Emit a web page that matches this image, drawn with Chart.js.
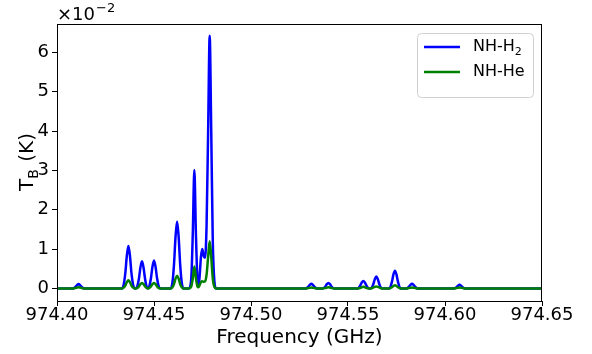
<!DOCTYPE html>
<html>
<head>
<meta charset="utf-8">
<script src="https://cdn.jsdelivr.net/npm/chart.js@4"></script>
<style>
  html, body { margin: 0; padding: 0; background: #fff; }
  #wrap { width: 592px; height: 354px; }
</style>
</head>
<body>
<div id="wrap"><canvas id="spec" width="592" height="354"></canvas></div>
<script>
// frequency grid (GHz) and brightness temperatures (units of 1e-2 K)
const freqs = [
  974.4000,
  974.4079, 974.4087, 974.4095, 974.4103, 974.4111, 974.4119, 974.4127, 974.4135, 974.4143,
  974.4336, 974.4344, 974.4352, 974.4360, 974.4368, 974.4376, 974.4384, 974.4392, 974.4400,
  974.4406, 974.4414, 974.4422, 974.4430, 974.4438, 974.4446, 974.4454, 974.4462,
  974.4469, 974.4476, 974.4484, 974.4492, 974.4500, 974.4508, 974.4516, 974.4524, 974.4532,
  974.4587, 974.4595, 974.4603, 974.4611, 974.4619, 974.4627, 974.4635, 974.4643, 974.4651,
  974.4680, 974.4692, 974.4700, 974.4708, 974.4716, 974.4724, 974.4729,
  974.4735, 974.4742, 974.4749, 974.4756, 974.4763,
  974.4771, 974.4779, 974.4787, 974.4795, 974.4803, 974.4811, 974.4820,
  974.5283, 974.5295, 974.5303, 974.5311, 974.5319, 974.5327, 974.5339,
  974.5371, 974.5383, 974.5391, 974.5399, 974.5407, 974.5415, 974.5427,
  974.5551, 974.5563, 974.5571, 974.5579, 974.5587, 974.5595, 974.5607,
  974.5618, 974.5630, 974.5638, 974.5646, 974.5654, 974.5662, 974.5674,
  974.5714, 974.5726, 974.5734, 974.5742, 974.5750, 974.5758, 974.5770,
  974.5802, 974.5814, 974.5822, 974.5830, 974.5838, 974.5846, 974.5858,
  974.6047, 974.6059, 974.6067, 974.6075, 974.6083, 974.6091, 974.6103,
  974.6500
];
const nhH2 = [
  0,
  0, 0.01, 0.04, 0.085, 0.11, 0.085, 0.04, 0.01, 0,
  0, 0.10, 0.38, 0.83, 1.08, 0.83, 0.38, 0.10, 0,
  0, 0.06, 0.24, 0.53, 0.69, 0.53, 0.24, 0.04,
  0, 0.06, 0.25, 0.55, 0.71, 0.55, 0.25, 0.06, 0,
  0, 0.15, 0.60, 1.31, 1.70, 1.31, 0.60, 0.15, 0,
  0, 0.25, 1.40, 3.01, 1.40, 0.20, 0.05,
  0.30, 0.80, 1.00, 0.82, 0.78,
  1.60, 4.00, 6.42, 4.00, 1.20, 0.20, 0,
  0, 0.04, 0.09, 0.12, 0.09, 0.04, 0,
  0, 0.05, 0.11, 0.14, 0.11, 0.05, 0,
  0, 0.07, 0.15, 0.19, 0.15, 0.07, 0,
  0, 0.10, 0.23, 0.30, 0.23, 0.10, 0,
  0, 0.16, 0.35, 0.45, 0.35, 0.16, 0,
  0, 0.04, 0.09, 0.12, 0.09, 0.04, 0,
  0, 0.03, 0.07, 0.09, 0.07, 0.03, 0,
  0
];
const nhHe = [
  0,
  0, 0, 0.01, 0.02, 0.03, 0.02, 0.01, 0, 0,
  0, 0.02, 0.07, 0.16, 0.21, 0.16, 0.07, 0.02, 0,
  0, 0.01, 0.05, 0.11, 0.14, 0.11, 0.05, 0.01,
  0, 0.01, 0.05, 0.11, 0.14, 0.11, 0.05, 0.01, 0,
  0, 0.03, 0.11, 0.25, 0.32, 0.25, 0.11, 0.03, 0,
  0, 0.05, 0.26, 0.56, 0.26, 0.05, 0.03,
  0.08, 0.16, 0.18, 0.17, 0.18,
  0.35, 0.80, 1.20, 0.80, 0.25, 0.04, 0,
  0, 0.01, 0.015, 0.02, 0.015, 0.01, 0,
  0, 0.01, 0.02, 0.03, 0.02, 0.01, 0,
  0, 0.01, 0.03, 0.04, 0.03, 0.01, 0,
  0, 0.02, 0.04, 0.05, 0.04, 0.02, 0,
  0, 0.03, 0.06, 0.08, 0.06, 0.03, 0,
  0, 0.01, 0.015, 0.02, 0.015, 0.01, 0,
  0, 0.01, 0.015, 0.02, 0.015, 0.01, 0,
  0
];
const seriesLabels = ["NH-H\u2082", "NH-He"];
const seriesColours = ["#0000ff", "#008000"];
const xTicks = [974.40, 974.45, 974.50, 974.55, 974.60, 974.65];
const yTicks = [0, 1, 2, 3, 4, 5, 6];

const FONT = "'DejaVu Sans', sans-serif";

const toPoints = vals => freqs.map((f, i) => ({ x: f, y: vals[i] }));

// frame, y title with subscript, offset text and the legend box
const decor = {
  id: "decor",
  afterDraw(chart) {
    const ctx = chart.ctx;
    const a = chart.chartArea;
    ctx.save();
    ctx.strokeStyle = "#000";
    ctx.lineWidth = 1;
    ctx.strokeRect(a.left + 0.5, a.top + 0.5, a.right - a.left - 1, a.bottom - a.top);

    // x10^-2
    ctx.fillStyle = "#000";
    ctx.textBaseline = "alphabetic";
    ctx.textAlign = "left";
    ctx.font = "18px " + FONT;
    ctx.fillText("\u00d710", a.left, 20);
    const w = ctx.measureText("\u00d710").width;
    ctx.font = "13px " + FONT;
    ctx.fillText("\u22122", a.left + w + 1, 12);

    // y title: T_B (K)
    ctx.translate(33, (a.top + a.bottom) / 2);
    ctx.rotate(-Math.PI / 2);
    ctx.font = "20px " + FONT;
    const wT = ctx.measureText("T").width;
    const wK = ctx.measureText(" (K)").width;
    ctx.font = "14px " + FONT;
    const wB = ctx.measureText("B").width;
    const x0 = -(wT + wB + wK) / 2;
    ctx.font = "20px " + FONT;
    ctx.fillText("T", x0, 0);
    ctx.font = "14px " + FONT;
    ctx.fillText("B", x0 + wT, 5);
    ctx.font = "20px " + FONT;
    ctx.fillText(" (K)", x0 + wT + wB + 1, 0);
    ctx.setTransform(1, 0, 0, 1, 0, 0);

    // legend
    const bx = 417, by = 33, bw = 116, bh = 64;
    ctx.fillStyle = "rgba(255,255,255,0.8)";
    ctx.strokeStyle = "#d0d0d0";
    ctx.beginPath();
    ctx.roundRect(bx + 0.5, by + 0.5, bw, bh, 4);
    ctx.fill();
    ctx.stroke();
    ctx.font = "16px " + FONT;
    ctx.textBaseline = "middle";
    seriesLabels.forEach((lab, i) => {
      const yy = by + 14 + i * 25;
      ctx.strokeStyle = seriesColours[i];
      ctx.lineWidth = 2.5;
      ctx.beginPath();
      ctx.moveTo(424, yy);
      ctx.lineTo(460, yy);
      ctx.stroke();
      ctx.fillStyle = "#000";
      if (lab.indexOf("\u2082") >= 0) {
        ctx.fillText("NH-H", 473, yy);
        const wh = ctx.measureText("NH-H").width;
        ctx.font = "11px " + FONT;
        ctx.fillText("2", 473 + wh, yy + 5);
        ctx.font = "16px " + FONT;
      } else {
        ctx.fillText(lab, 473, yy);
      }
    });
    ctx.restore();
  }
};

new Chart(document.getElementById("spec"), {
  type: "line",
  data: {
    datasets: [
      {
        label: seriesLabels[0],
        data: toPoints(nhH2),
        borderColor: seriesColours[0],
        borderWidth: 2.5,
        pointRadius: 0,
        cubicInterpolationMode: "monotone",
        fill: false,
        order: 2
      },
      {
        label: seriesLabels[1],
        data: toPoints(nhHe),
        borderColor: seriesColours[1],
        borderWidth: 2.5,
        pointRadius: 0,
        cubicInterpolationMode: "monotone",
        fill: false,
        order: 1
      }
    ]
  },
  options: {
    responsive: false,
    animation: false,
    layout: { padding: { top: 24, right: 50, left: 0, bottom: 0 } },
    plugins: { legend: { display: false }, tooltip: { enabled: false } },
    scales: {
      x: {
        type: "linear",
        min: 974.40,
        max: 974.65,
        afterBuildTicks: s => { s.ticks = xTicks.map(v => ({ value: v })); },
        afterFit: s => { s.height = 53; },
        grid: { display: true, drawOnChartArea: false, drawTicks: true, tickLength: 5, color: "#000" },
        border: { display: true, color: "#000" },
        ticks: {
          color: "#000",
          font: { family: FONT, size: 18 },
          padding: -1,
          maxRotation: 0,
          callback: v => Number(v).toFixed(2)
        },
        title: {
          display: true, text: "Frequency (GHz)", color: "#000",
          font: { family: FONT, size: 20 }, padding: { top: 0, bottom: 4 }
        }
      },
      y: {
        type: "linear",
        min: -0.32,
        max: 6.72,
        afterBuildTicks: s => { s.ticks = yTicks.map(v => ({ value: v })); },
        afterFit: s => { s.width = 57; },
        grid: { display: true, drawOnChartArea: false, drawTicks: true, tickLength: 5, color: "#000" },
        border: { display: true, color: "#000" },
        ticks: {
          color: "#000",
          font: { family: FONT, size: 18 },
          padding: 3,
          callback: v => String(v)
        }
      }
    }
  },
  plugins: [decor]
});
</script>
</body>
</html>
